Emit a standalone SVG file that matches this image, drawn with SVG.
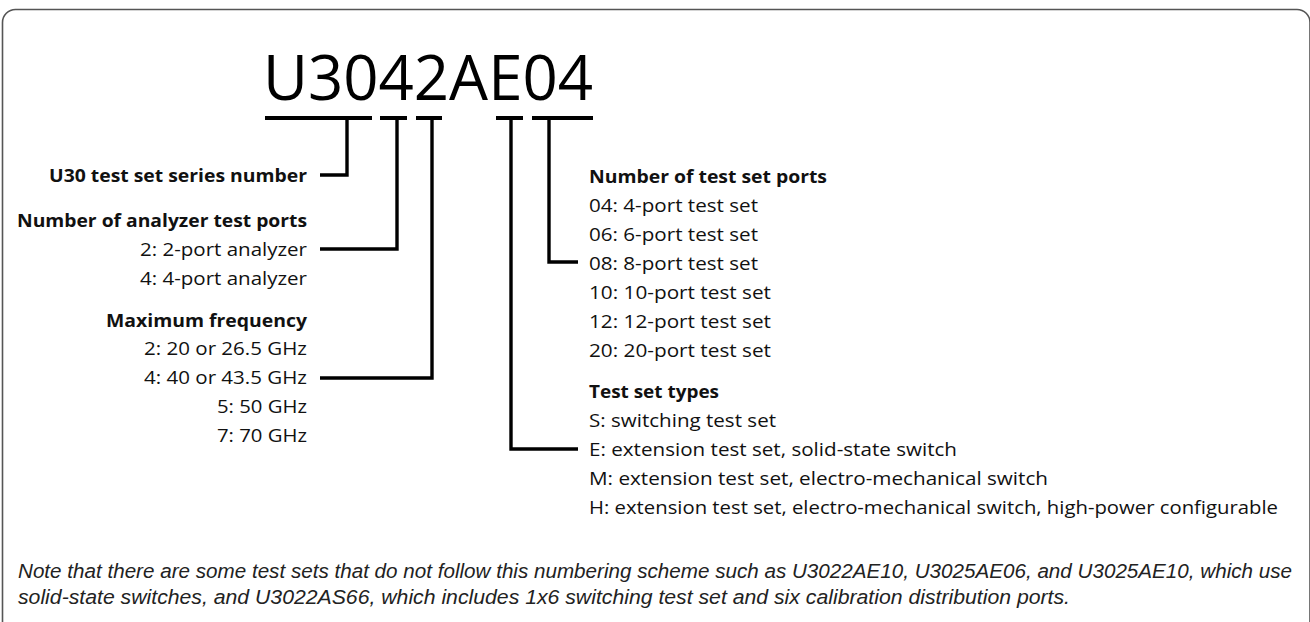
<svg xmlns="http://www.w3.org/2000/svg" width="1310" height="622" viewBox="0 0 1310 622">
<style>
.frame{fill:none;stroke:#555;stroke-width:1.6}
.bar{fill:none;stroke:#000;stroke-width:4.2}
.con{fill:none;stroke:#000;stroke-width:3.4;stroke-linejoin:miter;stroke-linecap:butt}
.t{font-family:"Open Sans","DejaVu Sans",sans-serif;font-size:18px;fill:#111}
.b{font-weight:bold}
.title{font-family:"Open Sans","DejaVu Sans",sans-serif;font-size:63px;fill:#000}
.note{font-family:"Liberation Sans",Arial,sans-serif;font-style:italic;font-size:20.5px;fill:#222}
</style>
<rect class="frame" x="2.5" y="9.5" width="1307.5" height="625" rx="13" ry="13"/>
<g id="title"><text class="title" x="263" y="100" textLength="330" lengthAdjust="spacingAndGlyphs">U3042AE04</text></g>
<g id="connectors">
<path class="bar" d="M265 118H372M380 118H407M416 118H442M496 118H523M532 118H593"/>
<path class="con" d="M347 118V175H320"/>
<path class="con" d="M397 118V249H320"/>
<path class="con" d="M432 118V378H320"/>
<path class="con" d="M511 118V449H578"/>
<path class="con" d="M549 118V262H578"/>
</g>
<g id="series">
<text class="t b" x="49" y="182" textLength="258" lengthAdjust="spacingAndGlyphs">U30 test set series number</text>
</g>
<g id="analyzer-ports">
<text class="t b" x="17" y="227" textLength="290" lengthAdjust="spacingAndGlyphs">Number of analyzer test ports</text>
<text class="t" x="140" y="256" textLength="167" lengthAdjust="spacingAndGlyphs">2: 2-port analyzer</text>
<text class="t" x="140" y="285" textLength="167" lengthAdjust="spacingAndGlyphs">4: 4-port analyzer</text>
</g>
<g id="max-frequency">
<text class="t b" x="106" y="327" textLength="201" lengthAdjust="spacingAndGlyphs">Maximum frequency</text>
<text class="t" x="144" y="355" textLength="163" lengthAdjust="spacingAndGlyphs">2: 20 or 26.5 GHz</text>
<text class="t" x="144" y="384" textLength="163" lengthAdjust="spacingAndGlyphs">4: 40 or 43.5 GHz</text>
<text class="t" x="217" y="413" textLength="90" lengthAdjust="spacingAndGlyphs">5: 50 GHz</text>
<text class="t" x="217" y="442" textLength="90" lengthAdjust="spacingAndGlyphs">7: 70 GHz</text>
</g>
<g id="test-set-ports">
<text class="t b" x="589" y="183" textLength="238" lengthAdjust="spacingAndGlyphs">Number of test set ports</text>
<text class="t" x="589" y="212" textLength="169" lengthAdjust="spacingAndGlyphs">04: 4-port test set</text>
<text class="t" x="589" y="241" textLength="169" lengthAdjust="spacingAndGlyphs">06: 6-port test set</text>
<text class="t" x="589" y="270" textLength="169" lengthAdjust="spacingAndGlyphs">08: 8-port test set</text>
<text class="t" x="589" y="299" textLength="182" lengthAdjust="spacingAndGlyphs">10: 10-port test set</text>
<text class="t" x="589" y="328" textLength="182" lengthAdjust="spacingAndGlyphs">12: 12-port test set</text>
<text class="t" x="589" y="357" textLength="182" lengthAdjust="spacingAndGlyphs">20: 20-port test set</text>
</g>
<g id="test-set-types">
<text class="t b" x="589" y="398" textLength="130" lengthAdjust="spacingAndGlyphs">Test set types</text>
<text class="t" x="589" y="427" textLength="187" lengthAdjust="spacingAndGlyphs">S: switching test set</text>
<text class="t" x="589" y="456" textLength="368" lengthAdjust="spacingAndGlyphs">E: extension test set, solid-state switch</text>
<text class="t" x="589" y="485" textLength="459" lengthAdjust="spacingAndGlyphs">M: extension test set, electro-mechanical switch</text>
<text class="t" x="589" y="514" textLength="689" lengthAdjust="spacingAndGlyphs">H: extension test set, electro-mechanical switch, high-power configurable</text>
</g>
<g id="note">
<text class="note" x="18" y="578" textLength="1274" lengthAdjust="spacingAndGlyphs">Note that there are some test sets that do not follow this numbering scheme such as U3022AE10, U3025AE06, and U3025AE10, which use</text>
<text class="note" x="18" y="604" textLength="1052" lengthAdjust="spacingAndGlyphs">solid-state switches, and U3022AS66, which includes 1x6 switching test set and six calibration distribution ports.</text>
</g>
</svg>
